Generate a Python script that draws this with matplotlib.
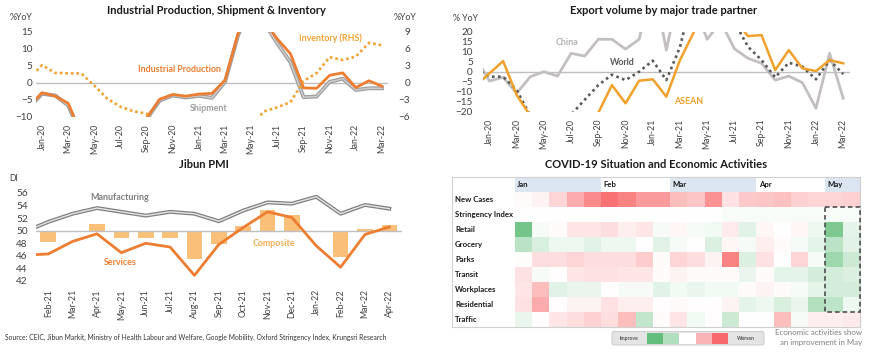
import matplotlib
matplotlib.use('Agg')
import matplotlib.pyplot as plt
import numpy as np
from matplotlib.colors import LinearSegmentedColormap
from matplotlib.patches import Rectangle, FancyBboxPatch

plt.rcParams['font.family'] = ['Lato', 'DejaVu Sans']

# ---------------- DATA ----------------
mon = ['Jan', 'Feb', 'Mar', 'Apr', 'May', 'Jun', 'Jul', 'Aug', 'Sep', 'Oct', 'Nov', 'Dec']


def mlabels(start_m, start_y, n):
    out = []
    m, y = start_m, start_y
    for _ in range(n):
        out.append(f"{mon[m]}-{y:02d}")
        m += 1
        if m == 12:
            m, y = 0, y + 1
    return out


months_top = mlabels(11, 19, 28)   # Dec-19 .. Mar-22
months_pmi = mlabels(0, 21, 16)    # Jan-21 .. Apr-22

# Industrial production chart (%YoY)
ind_prod = [-7.0, -2.9, -3.9, -6.0, -15.0, -25.0, -20.0, -16.0, -13.5, -10.3, -4.8, -3.4, -3.9,
            -3.3, -3.1, 0.8, 14.5, 22.0, 18.0, 12.8, 8.5, -1.5, -1.6, 2.2, 2.9, -1.4, 0.6, -1.0]
shipment = [-7.3, -3.2, -3.7, -6.6, -15.5, -25.0, -21.0, -17.0, -14.0, -10.6, -5.2, -3.7, -4.3,
            -3.8, -4.4, 0.3, 14.0, 22.0, 17.5, 11.5, 6.0, -4.2, -4.0, 0.3, 1.2, -2.1, -1.6, -1.6]
inventory = [0.7, 3.1, 1.75, 1.65, 1.65, -0.5, -2.8, -4.2, -5.0, -5.4, -7.7, -8.5, -9.0,
             -9.5, -9.5, -9.0, -8.5, -7.4, -5.0, -4.3, -3.4, 0.3, 1.7, 4.5, 4.0, 4.6, 7.0, 6.6]

# Export volume chart (% YoY)
exp_china = [7.0, -4.7, -2.8, -10.8, -2.5, 0.0, -2.2, 9.2, 7.8, 16.2, 16.2, 11.3, 16.2,
             46.0, 10.8, 43.0, 34.0, 16.2, 25.0, 11.5, 6.7, 4.2, -4.2, -2.2, -5.5, -18.3, 9.2, -13.3]
exp_world = [1.5, -2.5, -2.5, -9.2, -22.0, -28.0, -26.0, -21.5, -14.0, -6.7, -1.5, -4.2, 0.0,
             5.5, -4.2, 12.3, 40.0, 45.0, 30.0, 25.0, 12.5, 5.8, -2.8, 4.5, 2.5, -3.8, 5.8, -1.2]
exp_asean = [-6.8, -0.8, 5.3, -11.7, -22.0, -30.0, -29.0, -27.0, -24.0, -20.5, -6.7, -15.8, -4.5,
             -3.8, -12.5, 5.8, 19.5, 50.0, 35.0, 26.0, 17.8, 18.3, 0.8, 10.8, 1.7, 0.3, 5.8, 4.2]

# Jibun PMI (DI)
pmi_manuf = [49.8, 51.4, 52.7, 53.6, 53.0, 52.4, 53.0, 52.7, 51.5, 53.2, 54.5, 54.3, 55.4, 52.7, 54.1, 53.5]
pmi_serv = [46.1, 46.3, 48.3, 49.5, 46.5, 48.0, 47.4, 42.9, 47.8, 50.5, 53.0, 52.1, 47.6, 44.2, 49.4, 50.6]
pmi_comp = [47.1, 48.2, 49.9, 51.0, 48.8, 48.9, 48.8, 45.5, 47.9, 50.7, 53.3, 52.5, 49.9, 45.8, 50.3, 50.9]

# COVID heatmap (weekly, Jan..May 2022); negative = improve, positive = worsen
heat_rows = ['New Cases', 'Stringency Index', 'Retail', 'Grocery', 'Parks', 'Transit',
             'Workplaces', 'Residential', 'Traffic']
heat_months = ['Jan', 'Feb', 'Mar', 'Apr', 'May']
heat_month_cols = [5, 4, 5, 4, 2]
new_cases = [0.05, 0.15, 0.5, 1.0, 1.4, 1.7, 1.5, 1.2, 1.2, 0.8, 0.7, 1.3, 0.35, 0.65, 0.7, 0.75, 0.55, 0.5, 0.5, 0.55]
stringency = [0.0, 0.0, 0.0, 0.0, 0.0, 0.0, 0.0, 0.0, 0.0, 0.0, 0.0, 0.0, -0.08, -0.08, -0.08, -0.08, -0.08, -0.08, -0.08, -0.08]
retail = [-1.6, -0.1, 0.05, 0.3, 0.3, 0.4, 0.2, 0.3, -0.1, 0.1, -0.1, -0.15, 0.25, -0.35, 0.1, 0.0, 0.1, -0.2, -1.5, -0.3]
grocery = [-0.8, -0.45, -0.2, -0.2, -0.35, -0.2, -0.2, 0.0, -0.35, -0.1, 0.0, -0.4, 0.1, -0.1, 0.2, 0.05, -0.1, -0.3, -0.8, -0.35]
parks = [0.03, 0.4, 0.4, 0.5, 0.4, 0.4, 0.4, 0.6, 0.05, 0.5, 0.4, 0.15, 1.5, -0.4, 0.35, 0.0, 0.5, -0.1, -1.1, -0.6]
transit = [0.35, -0.1, 0.02, 0.3, 0.35, 0.35, 0.3, 0.3, 0.05, 0.15, 0.05, 0.05, 0.05, -0.25, 0.05, -0.3, -0.3, -0.5, -0.5, -0.4]
workplaces = [0.3, 0.8, -0.35, -0.25, -0.25, 0.02, -0.1, -0.1, -0.35, -0.15, -0.25, -0.15, -0.15, 0.05, 0.15, 0.05, -0.1, -0.3, -0.5, -0.5]
residential = [0.35, 1.0, 0.02, 0.15, 0.15, 0.35, 0.2, 0.2, 0.02, 0.05, 0.02, 0.02, 0.15, -0.3, -0.2, -0.45, -0.25, -0.85, -0.75, -0.2]
traffic = [-0.25, 0.02, 0.3, 0.4, 0.55, 0.4, 0.8, -0.7, 0.05, 0.3, -0.15, 0.02, -0.6, 0.0, 0.0, 0.8, -0.1, 0.2, 0.2, 0.25]
legend_colors = ['#63BE7B', '#B1DFBD', '#FFFFFF', '#FBB4B5', '#F8696B']

# ---------------- FIGURE ----------------
W, H = 870, 353
fig = plt.figure(figsize=(8.7, 3.53), dpi=100)


def rect(x0, y0, x1, y1):
    return [x0 / W, 1 - y1 / H, (x1 - x0) / W, (y1 - y0) / H]


TXT = '#404040'
ORANGE = '#ED7D31'
GOLD = '#F2A233'
GRID0 = '#BFBFBF'


def clean(ax):
    for s in ax.spines.values():
        s.set_visible(False)
    ax.tick_params(length=0, colors=TXT)
    ax.set_facecolor('none')


# overlay for free text
ov = fig.add_axes([0, 0, 1, 1])
ov.set_xlim(0, W)
ov.set_ylim(H, 0)
ov.axis('off')
ov.set_zorder(10)

# ===== Top-left: Industrial production =====
ax1 = fig.add_axes(rect(35.5, 31.5, 388.5, 117.0))
clean(ax1)
x_top = np.arange(-1, len(months_top) - 1)
ax1.set_xlim(-0.5, 26.5)
ax1.set_ylim(-10, 15)
ax1.axhline(0, color=GRID0, lw=1, zorder=1)
ax1.plot(x_top, shipment, color='#9E9E9E', lw=2.8, zorder=3, solid_joinstyle='round')
ax1.plot(x_top, shipment, color='#D0D0D0', lw=1.0, zorder=3)
ax1.plot(x_top, ind_prod, color=ORANGE, lw=2.0, zorder=4)
ax1.set_yticks([-10, -5, 0, 5, 10, 15])
ax1.tick_params(axis='y', labelsize=7.2, pad=2)
ticks_top = list(range(0, 27, 2))
ax1.set_xticks(ticks_top)
ax1.set_xticklabels([months_top[i + 1] for i in ticks_top], rotation=90, fontsize=6.3)
ax1.tick_params(axis='x', pad=5)
ax1b = ax1.twinx()
clean(ax1b)
ax1b.set_ylim(-6, 9)
ax1b.plot(x_top, inventory, color=GOLD, lw=1.9, linestyle=(0, (1, 1.1)), zorder=2)
ax1b.set_yticks([-6, -3, 0, 3, 6, 9])
ax1b.tick_params(axis='y', labelsize=7.2, pad=15.5)
for l in ax1b.get_yticklabels():
    l.set_ha('right')

ov.text(216, 11, 'Industrial Production, Shipment & Inventory', ha='center', va='center',
        fontsize=8, fontweight='bold', color='#1a1a1a')
ov.text(21, 17.5, '%YoY', ha='center', va='center', fontsize=6.3, color=TXT)
ov.text(405, 17.5, '%YoY', ha='center', va='center', fontsize=6.3, color=TXT)
ov.text(180, 69.5, 'Industrial Production', ha='center', va='center', fontsize=6.4,
        fontweight='bold', color=ORANGE)
ov.text(209, 108.5, 'Shipment', ha='center', va='center', fontsize=6.4,
        fontweight='bold', color='#9E9E9E')
ov.text(330, 38, 'Inventory (RHS)', ha='center', va='center', fontsize=6.4,
        fontweight='bold', color=GOLD)

# ===== Top-right: Export volume =====
ax2 = fig.add_axes(rect(482.7, 31.7, 850, 111.7))
clean(ax2)
ax2.set_xlim(-0.5, 26.5)
ax2.set_ylim(-20, 20)
ax2.axhline(0, color=GRID0, lw=1, zorder=1)
ax2.plot(x_top, exp_china, color='#C3BFBF', lw=2.0, zorder=2)
ax2.plot(x_top, exp_world, color='#595959', lw=1.9, linestyle=(0, (1, 1.3)), zorder=3)
ax2.plot(x_top, exp_asean, color='#F0A12B', lw=1.8, zorder=4)
ax2.set_yticks(list(range(-20, 21, 5)))
ax2.tick_params(axis='y', labelsize=7.2, pad=7)
ax2.set_xticks(ticks_top)
ax2.set_xticklabels([months_top[i + 1] for i in ticks_top], rotation=90, fontsize=6.3)
ax2.tick_params(axis='x', pad=5)

ov.text(664, 11, 'Export volume by major trade partner', ha='center', va='center',
        fontsize=8, fontweight='bold', color='#1a1a1a')
ov.text(465.5, 18.3, '% YoY', ha='center', va='center', fontsize=6.3, color=TXT)
ov.text(567, 42.7, 'China', ha='center', va='center', fontsize=6.4, fontweight='bold', color='#B5B1B1')
ov.text(622.5, 62.7, 'World', ha='center', va='center', fontsize=6.4, fontweight='bold', color='#595959')
ov.text(688.5, 101.7, 'ASEAN', ha='center', va='center', fontsize=6.4, fontweight='bold', color='#F0A12B')

# ===== Bottom-left: Jibun PMI =====
ax3 = fig.add_axes(rect(36.1, 180.4, 401.5, 281.0))
clean(ax3)
x_pmi = np.arange(-1, len(months_pmi) - 1)
ax3.set_xlim(-0.5, 14.5)
ax3.set_ylim(42, 58)
ax3.bar(x_pmi, np.array(pmi_comp) - 50, bottom=50, width=0.64, color='#FAC07A', zorder=2)
ax3.axhline(50, color=GRID0, lw=1, zorder=3)
ax3.plot(x_pmi, pmi_manuf, color='#7F7F7F', lw=2.8, zorder=4)
ax3.plot(x_pmi, pmi_manuf, color='#E6E6E6', lw=1.0, zorder=4)
ax3.plot(x_pmi, pmi_serv, color=ORANGE, lw=2.0, zorder=5)
ax3.set_yticks(list(range(42, 57, 2)))
ax3.tick_params(axis='y', labelsize=7.2, pad=6)
ax3.set_xticks(list(range(0, 15)))
ax3.set_xticklabels(months_pmi[1:], rotation=90, fontsize=6.3)
ax3.tick_params(axis='x', pad=6)

ov.text(203.5, 165, 'Jibun PMI', ha='center', va='center', fontsize=8, fontweight='bold', color='#1a1a1a')
ov.text(13.5, 178.5, 'DI', ha='center', va='center', fontsize=6.3, color=TXT)
ov.text(120, 197.3, 'Manufacturing', ha='center', va='center', fontsize=6.4, fontweight='bold', color='#7F7F7F')
ov.text(120, 262.3, 'Services', ha='center', va='center', fontsize=6.4, fontweight='bold', color=ORANGE)
ov.text(274, 244, 'Composite', ha='center', va='center', fontsize=6.4, fontweight='bold', color='#F5AE55')

ov.text(5, 337.3, 'Source: CEIC, Jibun Markit, Ministry of Health Labour and Welfare, Google Mobility, '
        'Oxford Stringency Index, Krungsri Research', ha='left', va='center', fontsize=4.9, color='#333333')

# ===== Bottom-right: COVID heatmap =====
ax4 = fig.add_axes(rect(452, 176.7, 860, 326.7))
ncol = len(new_cases)
ax4.set_xlim(-3.652, ncol)
ax4.set_ylim(len(heat_rows), -1)
ax4.set_xticks([])
ax4.set_yticks([])
for s in ax4.spines.values():
    s.set_color('#D0D0D0')
    s.set_linewidth(0.8)
heat = np.array([new_cases, stringency, retail, grocery, parks, transit, workplaces, residential, traffic])
cmap = LinearSegmentedColormap.from_list('gwr', ['#63BE7B', '#FFFFFF', '#F8696B'])
ax4.pcolormesh(np.arange(ncol + 1), np.arange(len(heat_rows) + 1), heat, cmap=cmap,
               vmin=-1.8, vmax=1.8, shading='flat', zorder=1)
c0 = 0
for i, (mname, nc) in enumerate(zip(heat_months, heat_month_cols)):
    if i % 2 == 0:
        ax4.add_patch(Rectangle((c0, -1), nc, 1, facecolor='#DCE6F1', edgecolor='none', zorder=1))
    ax4.text(c0 + 0.12, -0.45, mname, ha='left', va='center', fontsize=5.6, fontweight='bold', color='#1a1a1a')
    c0 += nc
for r, name in enumerate(heat_rows):
    ax4.text(-3.48, r + 0.5, name, ha='left', va='center', fontsize=5.6, fontweight='bold', color='#1a1a1a')
ax4.add_patch(Rectangle((ncol - 2, 1), 2, 7, facecolor='none', edgecolor='#404040',
                        lw=1.1, linestyle=(0, (3, 2)), zorder=5, clip_on=False))

ov.text(656.5, 165, 'COVID-19 Situation and Economic Activities', ha='center', va='center',
        fontsize=8, fontweight='bold', color='#1a1a1a')

# legend
ov.add_patch(FancyBboxPatch((612, 331.5), 152, 13.5, boxstyle='round,pad=0,rounding_size=2',
                            facecolor='#E4E4E4', edgecolor='#C8C8C8', lw=0.6))
for i, c in enumerate(legend_colors):
    ov.add_patch(Rectangle((646.7 + i * 16.3, 332.6), 16.3, 11.3, facecolor=c, edgecolor='none'))
ov.text(629.3, 338.3, 'Improve', ha='center', va='center', fontsize=3.7, fontweight='bold', color='#555555')
ov.text(746.3, 338.3, 'Worsen', ha='center', va='center', fontsize=3.7, fontweight='bold', color='#555555')

ov.text(862, 332.7, 'Economic activities show', ha='right', va='center', fontsize=5.7, color='#7F7F7F')
ov.text(862, 342.3, 'an improvement in May', ha='right', va='center', fontsize=5.7, color='#7F7F7F')

fig.savefig('out.png', dpi=100)
